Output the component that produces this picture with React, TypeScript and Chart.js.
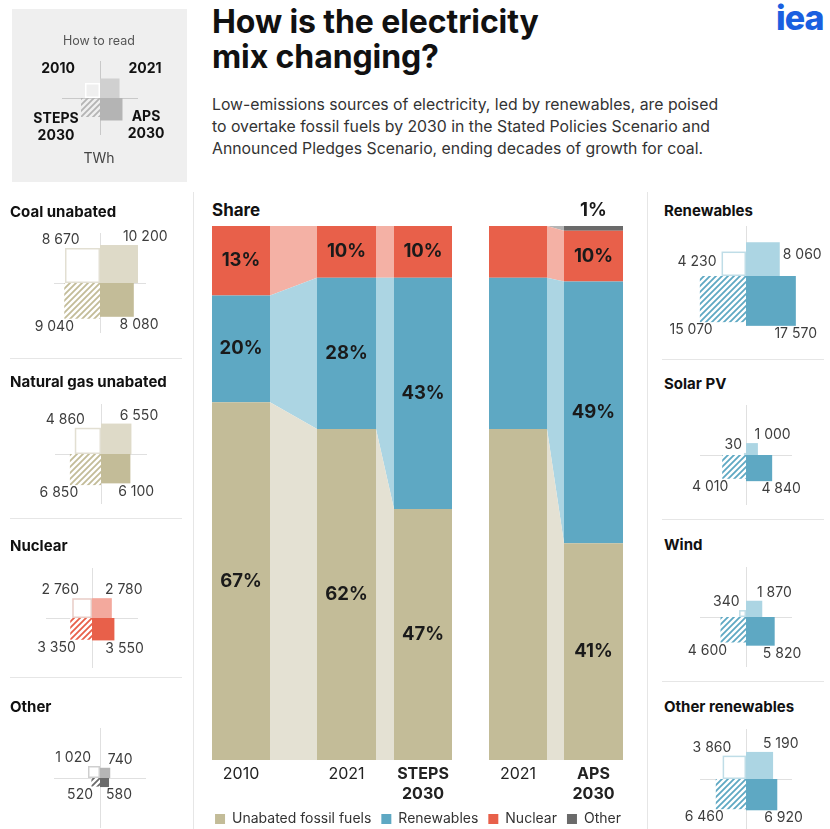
import React, { useEffect, useRef } from "react";
import { Chart, registerables } from "chart.js";

Chart.register(...registerables);

const FONT = "Inter, 'Noto Sans', 'Liberation Sans', Arial, sans-serif";

// ---------- Main chart data (share of generation, %) ----------
const BAR_LABELS = [["2010"], ["2021"], ["STEPS", "2030"], ["2021"], ["APS", "2030"]];
const BAR_LABEL_BOLD = [false, false, true, false, true];
const SERIES_NAMES = ["Unabated fossil fuels", "Renewables", "Nuclear", "Other"];
const FOSSIL_SHARE = [67, 62, 47, 62, 40.6];
const RENEWABLES_SHARE = [20, 28.3, 43.3, 28.3, 49];
const NUCLEAR_SHARE = [13, 9.7, 9.7, 9.7, 9.5];
const OTHER_SHARE = [0, 0, 0, 0, 0.9];
const SHOW_SHARE_LABELS = [true, true, true, false, true];

// ---------- Side panels (TWh): [2010, 2021, STEPS 2030, APS 2030] ----------
const COAL_TWH = [8670, 10200, 9040, 8080];
const GAS_TWH = [4860, 6550, 6850, 6100];
const NUCLEAR_TWH = [2760, 2780, 3350, 3550];
const OTHER_TWH = [1020, 740, 520, 580];
const RENEWABLES_TWH = [4230, 8060, 15070, 17570];
const SOLAR_TWH = [30, 1000, 4010, 4840];
const WIND_TWH = [340, 1870, 4600, 5820];
const OTHER_RENEWABLES_TWH = [3860, 5190, 6460, 6920];
const HOWTO_ILLUSTRATION = [1590, 2690, 2550, 3580];

// ---------- Layout / style ----------
const BAR_SPANS = [[0, 58], [105, 164], [182, 240], [277, 335], [352, 411]];
const CONNECTORS = ["band", "band", "gap", "band"];
const BAR_COLORS = ["#c3bc98", "#5ea8c3", "#e8604a", "#6a6a6a"];
const BAND_COLORS = ["#e4e1d3", "#acd5e3", "#f4b1a5", "#b4b4b4"];
const PX_PER_UNIT = 0.376; // px per sqrt(TWh)
const PANEL_W = 170;
const PANEL_H = 130;
const MAIN_LEFT = 178;
const MAIN_TOP = 196;
const MAIN_W = 480;
const MAIN_H = 640;
const X_MIN = MAIN_LEFT - 212;
const X_MAX = MAIN_LEFT + MAIN_W - 212;

function segColor(s: number, idx: number) {
  if (idx % 2 === 0) return BAR_COLORS[s];
  return CONNECTORS[(idx - 1) / 2] === "band" ? BAND_COLORS[s] : "rgba(0,0,0,0)";
}

const shareLabelPlugin = {
  id: "shareLabels",
  afterDatasetsDraw(chart: any) {
    const { ctx, scales } = chart;
    const x = scales.x, y = scales.y;
    const shares = [FOSSIL_SHARE, RENEWABLES_SHARE, NUCLEAR_SHARE, OTHER_SHARE];
    ctx.save();
    ctx.font = `700 18.5px ${FONT}`;
    ctx.fillStyle = "#1a1a1a";
    ctx.textAlign = "center";
    ctx.textBaseline = "middle";
    BAR_SPANS.forEach(([l, r], i) => {
      if (!SHOW_SHARE_LABELS[i]) return;
      const xc = x.getPixelForValue((l + r) / 2);
      let base = 0;
      shares.forEach((arr) => {
        const v = arr[i];
        if (v <= 0) return;
        const text = Math.round(v) + "%";
        if (v < 3) ctx.fillText(text, xc, y.getPixelForValue(base + v) - 16);
        else ctx.fillText(text, xc, y.getPixelForValue(base + v / 2));
        base += v;
      });
    });
    ctx.restore();
  },
};

function MainChart() {
  const ref = useRef<HTMLCanvasElement>(null);
  useEffect(() => {
    const shares = [FOSSIL_SHARE, RENEWABLES_SHARE, NUCLEAR_SHARE, OTHER_SHARE];
    const cum = shares.map((_, s) =>
      BAR_SPANS.map((__, i) => shares.slice(0, s + 1).reduce((a, arr) => a + arr[i], 0))
    );
    const datasets = SERIES_NAMES.map((name, s) => ({
      label: name,
      data: BAR_SPANS.flatMap(([l, r], i) => [
        { x: l, y: cum[s][i] },
        { x: r, y: cum[s][i] },
      ]),
      fill: s === 0 ? "origin" : "-1",
      backgroundColor: BAR_COLORS[s],
      borderColor: "rgba(0,0,0,0)",
      borderWidth: 0,
      pointRadius: 0,
      pointHoverRadius: 0,
      tension: 0,
      segment: { backgroundColor: (c: any) => segColor(s, c.p0DataIndex) },
    }));
    const chart = new Chart(ref.current as HTMLCanvasElement, {
      type: "line",
      data: { datasets } as any,
      options: {
        animation: false,
        responsive: false,
        devicePixelRatio: 1,
        events: [],
        layout: { padding: { top: 30, left: 0, right: 0, bottom: 0 } },
        scales: {
          x: {
            type: "linear",
            min: X_MIN,
            max: X_MAX,
            grid: { display: false, drawTicks: false },
            border: { display: false },
            afterBuildTicks: (scale: any) => {
              scale.ticks = BAR_SPANS.map(([l, r]) => ({ value: (l + r) / 2 }));
            },
            afterFit: (scale: any) => {
              scale.height = 42;
            },
            ticks: {
              autoSkip: false,
              maxRotation: 0,
              padding: 4,
              color: "#222",
              font: (c: any) => ({
                family: FONT,
                size: 16,
                weight: BAR_LABEL_BOLD[c.index] ? "bold" : "normal",
                lineHeight: 1.25,
              }),
              callback: (_v: any, i: number) => BAR_LABELS[i],
            },
          },
          y: { display: false, min: 0, max: 100 },
        },
        plugins: {
          legend: {
            position: "bottom",
            labels: {
              boxWidth: 10,
              boxHeight: 10,
              padding: 10,
              color: "#333",
              font: { family: FONT, size: 14 },
            },
          },
          tooltip: { enabled: false },
        },
      } as any,
      plugins: [shareLabelPlugin],
    });
    return () => chart.destroy();
  }, []);
  return (
    <canvas
      ref={ref}
      width={MAIN_W}
      height={MAIN_H}
      style={{ position: "absolute", left: MAIN_LEFT, top: MAIN_TOP, width: MAIN_W, height: MAIN_H }}
    />
  );
}

type PanelCfg = {
  values: number[];
  cx: number;
  cy: number;
  light: string;
  main: string;
  outline: string;
  tlFill: string | null;
  hatchBg: string | null;
  labels: "corner" | "beside" | "none";
  lineX: number;
  lineY: number;
  lineColor: string;
};

function fmt(n: number) {
  return n >= 1000 ? `${Math.floor(n / 1000)} ${String(n % 1000).padStart(3, "0")}` : String(n);
}

function makeHatch(ctx: CanvasRenderingContext2D, color: string, bg: string | null) {
  const c = document.createElement("canvas");
  c.width = 6;
  c.height = 6;
  const g = c.getContext("2d") as CanvasRenderingContext2D;
  if (bg) {
    g.fillStyle = bg;
    g.fillRect(0, 0, 6, 6);
  }
  g.strokeStyle = color;
  g.lineWidth = 1.8;
  g.beginPath();
  g.moveTo(-1, 7);
  g.lineTo(7, -1);
  g.moveTo(-1, 1);
  g.lineTo(1, -1);
  g.moveTo(5, 7);
  g.lineTo(7, 5);
  g.stroke();
  return ctx.createPattern(c, "repeat") as CanvasPattern;
}

function squaresPlugin(cfg: PanelCfg) {
  return {
    id: "squares",
    afterDraw(chart: any) {
      const { ctx, scales } = chart;
      const x = scales.x, y = scales.y;
      const x0 = x.getPixelForValue(0);
      const y0 = y.getPixelForValue(0);
      const side = (v: number) => x.getPixelForValue(Math.sqrt(v)) - x0;
      const [stl, str, sbl, sbr] = cfg.values.map(side);
      ctx.save();
      // crosshair
      ctx.strokeStyle = cfg.lineColor;
      ctx.lineWidth = 1;
      ctx.beginPath();
      ctx.moveTo(x0 - cfg.lineX, Math.round(y0) + 0.5);
      ctx.lineTo(x0 + cfg.lineX, Math.round(y0) + 0.5);
      ctx.moveTo(Math.round(x0) + 0.5, y0 - cfg.lineY);
      ctx.lineTo(Math.round(x0) + 0.5, y0 + cfg.lineY);
      ctx.stroke();
      // 2021
      ctx.fillStyle = cfg.light;
      ctx.fillRect(x0, y0 - str, str, str);
      // APS 2030
      ctx.fillStyle = cfg.main;
      ctx.fillRect(x0, y0, sbr, sbr);
      // STEPS 2030 (hatched)
      ctx.fillStyle = makeHatch(ctx, cfg.main, cfg.hatchBg);
      ctx.fillRect(x0 - sbl, y0, sbl, sbl);
      // 2010 (outline)
      if (cfg.tlFill) {
        ctx.fillStyle = cfg.tlFill;
        ctx.fillRect(x0 - stl, y0 - stl, stl, stl);
      }
      ctx.strokeStyle = cfg.outline;
      ctx.lineWidth = 1.5;
      ctx.strokeRect(x0 - stl + 0.75, y0 - stl + 0.75, stl - 1.5, stl - 1.5);

      if (cfg.labels !== "none") {
        ctx.font = `400 14px ${FONT}`;
        ctx.fillStyle = "#3d3d3d";
        ctx.textBaseline = "middle";
        const [vtl, vtr, vbl, vbr] = cfg.values;
        if (cfg.labels === "beside") {
          ctx.textAlign = "right";
          ctx.fillText(fmt(vtl), x0 - stl - 5, y0 - stl / 2 - 2);
          ctx.textAlign = "left";
          ctx.fillText(fmt(vtr), x0 + str + 3, y0 - str / 2 - 4);
        } else {
          ctx.textAlign = "right";
          ctx.fillText(fmt(vtl), x0 - 0.5 * stl - 3, y0 - stl - 8);
          ctx.textAlign = "left";
          ctx.fillText(fmt(vtr), x0 + 0.55 * str + 2, y0 - str - 8);
        }
        ctx.textAlign = "right";
        ctx.fillText(fmt(vbl), x0 - 0.7 * sbl - 1, y0 + sbl + 8);
        ctx.textAlign = "left";
        ctx.fillText(fmt(vbr), x0 + 0.55 * sbr + 1, y0 + sbr + 8);
      }
      ctx.restore();
    },
  };
}

function Panel({ cfg }: { cfg: PanelCfg }) {
  const ref = useRef<HTMLCanvasElement>(null);
  useEffect(() => {
    const halfW = PANEL_W / 2 / PX_PER_UNIT;
    const halfH = PANEL_H / 2 / PX_PER_UNIT;
    const chart = new Chart(ref.current as HTMLCanvasElement, {
      type: "scatter",
      data: { datasets: [] },
      options: {
        animation: false,
        responsive: false,
        devicePixelRatio: 1,
        events: [],
        layout: { padding: 0 },
        scales: {
          x: { type: "linear", display: false, min: -halfW, max: halfW },
          y: { type: "linear", display: false, min: -halfH, max: halfH },
        },
        plugins: { legend: { display: false }, tooltip: { enabled: false } },
      } as any,
      plugins: [squaresPlugin(cfg)],
    });
    return () => chart.destroy();
  }, [cfg]);
  return (
    <canvas
      ref={ref}
      width={PANEL_W}
      height={PANEL_H}
      style={{
        position: "absolute",
        left: cfg.cx - PANEL_W / 2,
        top: cfg.cy - PANEL_H / 2,
        width: PANEL_W,
        height: PANEL_H,
      }}
    />
  );
}

const TAN = { light: "#dedac8", main: "#c3bc98", outline: "#e2dfd2" };
const RED = { light: "#f3a99d", main: "#e8604a", outline: "#e8ccc6" };
const GREY = { light: "#b5b5b5", main: "#6a6a6a", outline: "#cfcfcf" };
const BLUE = { light: "#acd5e3", main: "#5ea8c3", outline: "#bfdde7" };

const base = { tlFill: "#ffffff", hatchBg: "#ffffff", lineX: 46, lineY: 50, lineColor: "#e0e0e0" };

const PANELS: (PanelCfg & { title: string; tx: number; ty: number })[] = [
  { title: "Coal unabated", tx: 10, ty: 203, values: COAL_TWH, cx: 100, cy: 283, ...TAN, ...base, labels: "corner" },
  { title: "Natural gas unabated", tx: 10, ty: 373, values: GAS_TWH, cx: 101, cy: 454, ...TAN, ...base, labels: "corner" },
  { title: "Nuclear", tx: 10, ty: 537, values: NUCLEAR_TWH, cx: 92, cy: 618, ...RED, ...base, labels: "corner" },
  { title: "Other", tx: 10, ty: 698, values: OTHER_TWH, cx: 100, cy: 778, ...GREY, ...base, labels: "corner" },
  { title: "Renewables", tx: 664, ty: 202, values: RENEWABLES_TWH, cx: 746, cy: 276, ...BLUE, ...base, labels: "beside" },
  { title: "Solar PV", tx: 664, ty: 375, values: SOLAR_TWH, cx: 746, cy: 455, ...BLUE, ...base, labels: "corner" },
  { title: "Wind", tx: 664, ty: 536, values: WIND_TWH, cx: 746, cy: 617, ...BLUE, ...base, labels: "corner" },
  { title: "Other renewables", tx: 664, ty: 698, values: OTHER_RENEWABLES_TWH, cx: 746, cy: 779, ...BLUE, ...base, labels: "corner" },
];

const HOWTO: PanelCfg = {
  values: HOWTO_ILLUSTRATION,
  cx: 100,
  cy: 98,
  light: "#d0d0d0",
  main: "#b4b4b4",
  outline: "#ffffff",
  tlFill: null,
  hatchBg: null,
  labels: "none",
  lineX: 38,
  lineY: 37,
  lineColor: "#c9c9c9",
};

function Centered({ x, y, children, style }: any) {
  return (
    <div
      style={{
        position: "absolute",
        left: x,
        top: y,
        transform: "translate(-50%, -50%)",
        whiteSpace: "nowrap",
        textAlign: "center",
        ...style,
      }}
    >
      {children}
    </div>
  );
}

function Rule({ x, y, w, h }: any) {
  return <div style={{ position: "absolute", left: x, top: y, width: w, height: h, background: "#e6e6e6" }} />;
}

export default function App() {
  const bold = { fontWeight: 700, fontSize: 14, color: "#111", lineHeight: "17px" };
  return (
    <div
      style={{
        position: "fixed",
        left: 0,
        top: 0,
        width: 830,
        height: 829,
        overflow: "hidden",
        background: "#ffffff",
        fontFamily: FONT,
        color: "#111",
      }}
    >
      {/* How to read */}
      <div style={{ position: "absolute", left: 12, top: 9, width: 175, height: 173, background: "#efefef" }} />
      <Panel cfg={HOWTO} />
      <Centered x={99} y={40} style={{ fontSize: 12.5, color: "#555" }}>How to read</Centered>
      <Centered x={58} y={67} style={bold}>2010</Centered>
      <Centered x={145} y={67} style={bold}>2021</Centered>
      <Centered x={56} y={126} style={bold}>STEPS<br />2030</Centered>
      <Centered x={146} y={124} style={bold}>APS<br />2030</Centered>
      <Centered x={99} y={157} style={{ fontSize: 14, color: "#444" }}>TWh</Centered>

      {/* Header */}
      <div
        style={{
          position: "absolute",
          left: 212,
          top: 4,
          fontSize: 32,
          fontWeight: 700,
          lineHeight: "35px",
          letterSpacing: "-0.1px",
          color: "#111",
        }}
      >
        How is the electricity
        <br />
        mix changing?
      </div>
      <div
        style={{
          position: "absolute",
          left: 776,
          top: -3,
          fontSize: 34,
          fontWeight: 800,
          color: "#1a5fe0",
          letterSpacing: "-1px",
        }}
      >
        iea
      </div>
      <div
        style={{
          position: "absolute",
          left: 212,
          top: 94,
          fontSize: 15.8,
          lineHeight: "22px",
          color: "#333",
          whiteSpace: "nowrap",
        }}
      >
        Low-emissions sources of electricity, led by renewables, are poised
        <br />
        to overtake fossil fuels by 2030 in the Stated Policies Scenario and
        <br />
        Announced Pledges Scenario, ending decades of growth for coal.
      </div>

      {/* Dividers */}
      <Rule x={193} y={192} w={1} h={640} />
      <Rule x={647} y={192} w={1} h={640} />
      <Rule x={10} y={358} w={172} h={1} />
      <Rule x={10} y={518} w={172} h={1} />
      <Rule x={10} y={677} w={172} h={1} />
      <Rule x={662} y={359} w={162} h={1} />
      <Rule x={662} y={519} w={162} h={1} />
      <Rule x={662} y={681} w={162} h={1} />

      {/* Main chart */}
      <div style={{ position: "absolute", left: 212, top: 200, fontSize: 17, fontWeight: 700, lineHeight: "20px" }}>
        Share
      </div>
      <MainChart />

      {/* Side panels */}
      {PANELS.map((p) => (
        <React.Fragment key={p.title}>
          <div
            style={{
              position: "absolute",
              left: p.tx,
              top: p.ty,
              fontSize: 15,
              fontWeight: 700,
              lineHeight: "18px",
              color: "#111",
              whiteSpace: "nowrap",
            }}
          >
            {p.title}
          </div>
          <Panel cfg={p} />
        </React.Fragment>
      ))}
    </div>
  );
}
